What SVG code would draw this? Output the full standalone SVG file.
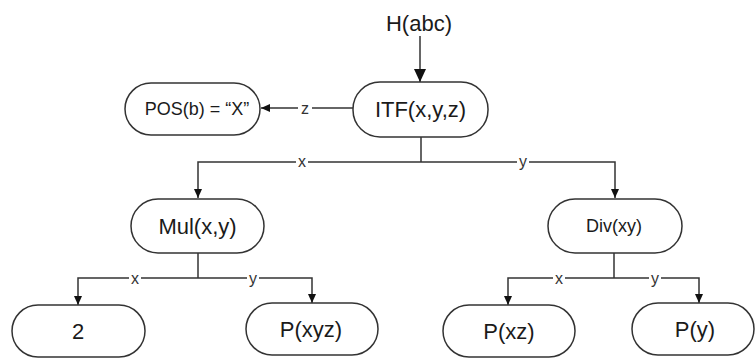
<svg xmlns="http://www.w3.org/2000/svg" width="756" height="358" viewBox="0 0 756 358">
<style>
.n{fill:#fff;stroke:#333;stroke-width:1.5}
.t{font-family:"Liberation Sans",Arial,sans-serif;fill:#1a1a1a;text-anchor:middle;dominant-baseline:central}
.e{fill:none;stroke:#333;stroke-width:1.5}
.l{font-family:"Liberation Sans",Arial,sans-serif;fill:#333;font-size:16px;text-anchor:middle;dominant-baseline:central}
.lb{fill:#fff;stroke:none}
</style>
<defs>
<marker id="a" markerWidth="10" markerHeight="10" refX="9" refY="5" orient="auto" markerUnits="userSpaceOnUse">
<path d="M0,1 L9,5 L0,9 Z" fill="#111"/>
</marker>
<marker id="ab" markerWidth="14" markerHeight="14" refX="13" refY="7" orient="auto" markerUnits="userSpaceOnUse">
<path d="M0,1 L13,7 L0,13 Z" fill="#111"/>
</marker>
</defs>
<rect width="756" height="358" fill="#fff"/>
<g id="connectors">
<path class="e" d="M420,36 V82" stroke-width="2" marker-end="url(#ab)"/>
<path class="e" d="M353,108 H261" marker-end="url(#a)"/>
<rect class="lb" x="298" y="99" width="14" height="18"/>
<text class="l" x="305" y="108">z</text>
<path class="e" d="M421,137 V162"/>
<path class="e" d="M421,162 H198 V198" marker-end="url(#a)"/>
<path class="e" d="M421,162 H615 V198" marker-end="url(#a)"/>
<rect class="lb" x="296" y="153" width="12" height="18"/>
<text class="l" x="302" y="161">x</text>
<rect class="lb" x="517" y="153" width="12" height="18"/>
<text class="l" x="523" y="161">y</text>
<path class="e" d="M198,253 V278"/>
<path class="e" d="M198,278 H78 V305" marker-end="url(#a)"/>
<path class="e" d="M198,278 H312 V303" marker-end="url(#a)"/>
<rect class="lb" x="129" y="269" width="12" height="18"/>
<text class="l" x="135" y="278">x</text>
<rect class="lb" x="247" y="269" width="12" height="18"/>
<text class="l" x="253" y="278">y</text>
<path class="e" d="M614,253 V278"/>
<path class="e" d="M614,278 H508 V305" marker-end="url(#a)"/>
<path class="e" d="M614,278 H699 V303" marker-end="url(#a)"/>
<rect class="lb" x="553" y="269" width="12" height="18"/>
<text class="l" x="559" y="278">x</text>
<rect class="lb" x="649" y="269" width="12" height="18"/>
<text class="l" x="655" y="278">y</text>
</g>
<g id="h"><text class="t" x="419" y="23" font-size="22">H(abc)</text></g>
<g id="itf"><rect class="n" x="353" y="82" width="135" height="55" rx="27"/><text class="t" x="420.5" y="109.5" font-size="22">ITF(x,y,z)</text></g>
<g id="pos"><rect class="n" x="125" y="83" width="135" height="52" rx="26"/><text class="t" x="197" y="109" font-size="18">POS(b) = “X”</text></g>
<g id="mul"><rect class="n" x="131" y="199" width="133" height="54" rx="27"/><text class="t" x="197.5" y="226" font-size="22">Mul(x,y)</text></g>
<g id="div"><rect class="n" x="548" y="199" width="134" height="54" rx="27"/><text class="t" x="614" y="226" font-size="18">Div(xy)</text></g>
<g id="two"><rect class="n" x="12" y="305" width="133" height="52" rx="26"/><text class="t" x="78" y="331" font-size="22">2</text></g>
<g id="pxyz"><rect class="n" x="246" y="303" width="132" height="52" rx="26"/><text class="t" x="311" y="329" font-size="22">P(xyz)</text></g>
<g id="pxz"><rect class="n" x="443" y="305" width="132" height="52" rx="26"/><text class="t" x="509" y="331" font-size="22">P(xz)</text></g>
<g id="py"><rect class="n" x="632" y="303" width="122" height="52" rx="26"/><text class="t" x="695" y="329" font-size="22">P(y)</text></g>
</svg>
